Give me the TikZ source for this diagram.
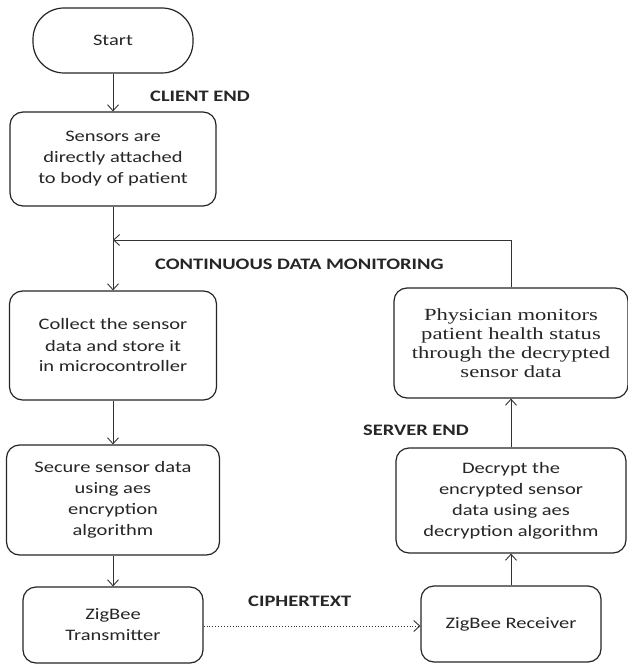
\documentclass[tikz,border=0pt]{standalone}
\usepackage{fontspec}
\setmainfont{Carlito}[FakeStretch=1.28]
\newfontfamily\serifbox{Liberation Serif}[FakeStretch=1.33]
\usetikzlibrary{arrows.meta}
\begin{document}
\begin{tikzpicture}[x=1pt,y=-1pt,
  box/.style={draw=black!85, line width=1.2pt, rounded corners=13pt, align=center,
    inner sep=0pt, font=\fontsize{16}{21}\selectfont, text=black!85},
  lbl/.style={font=\fontsize{16}{18}\selectfont\bfseries, text=black!85, inner sep=0pt},
  arr/.style={draw=black!80, line width=0.9pt, -{Straight Barb[length=6pt,width=11pt]}}]
\useasboundingbox (0,0) rectangle (628,666);
\fill[white] (0,0) rectangle (628,666);
\node[box, minimum width=160pt, minimum height=65pt, rounded corners=31pt] (start) at (113,40.5) {Start};
\node[box, minimum width=206pt, minimum height=94pt] (sens) at (113,159) {Sensors are\\directly attached\\to body of patient};
\node[box, minimum width=207pt, minimum height=109pt] (coll) at (113,345.5) {Collect the sensor\\data and store it\\in microcontroller};
\node[box, minimum width=213pt, minimum height=110pt] (sec) at (113,500) {Secure sensor data\\using aes\\encryption\\algorithm};
\node[box, minimum width=180pt, minimum height=76pt] (tx) at (113,625) {ZigBee\\Transmitter};
\node[box, minimum width=180pt, minimum height=76pt] (rx) at (511,624) {ZigBee Receiver};
\node[box, minimum width=230pt, minimum height=105pt] (dec) at (511,500.5) {Decrypt the\\encrypted sensor\\data using aes\\decryption algorithm};
\node[box, minimum width=234pt, minimum height=110pt, font=\serifbox\fontsize{17}{19}\selectfont] (phys) at (511,343) {Physician monitors\\patient health status\\through the decrypted\\sensor data};
\coordinate (fb) at (113,240);
\node[lbl, anchor=west] (client) at (150,96) {CLIENT END};
\node[lbl, anchor=west] (cont) at (155,264) {CONTINUOUS DATA MONITORING};
\node[lbl, anchor=west] (server) at (363,430) {SERVER END};
\node[lbl, anchor=west] (ciph) at (248,601) {CIPHERTEXT};
\draw[arr] (start) -- (sens);
\draw[arr] (sens) -- (coll);
\draw[arr] (coll) -- (sec);
\draw[arr] (sec) -- (tx);
\draw[arr, dotted] (tx.east) ++(0,1) -- (rx.west |- 0,626);
\draw[arr] (rx) -- (dec);
\draw[arr] (dec) -- (phys);
\draw[arr] (phys.north) |- (fb);
\end{tikzpicture}
\end{document}
